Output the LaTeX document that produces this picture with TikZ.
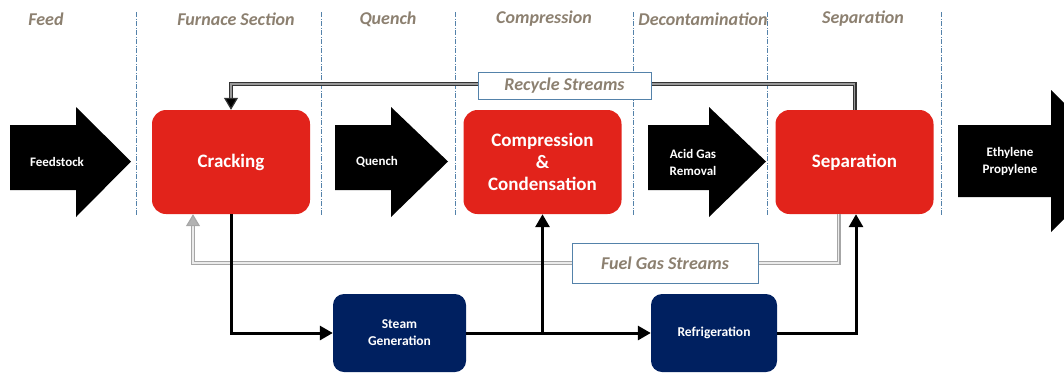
\documentclass[tikz,border=0pt]{standalone}
\usepackage{fontspec}
\setmainfont{Carlito}
\usetikzlibrary{arrows.meta}
\definecolor{crackred}{RGB}{226,35,27}
\definecolor{utilblue}{RGB}{0,32,96}
\definecolor{headgray}{RGB}{140,128,112}
\definecolor{sectblue}{RGB}{84,130,170}
\begin{document}
\begin{tikzpicture}[x=1pt,y=-1pt]
        \tikzset{
            procnode/.style={rounded corners=14pt,fill=crackred,minimum width=158pt,minimum height=104pt,text=white,align=center,font=\fontsize{19}{22}\selectfont\bfseries},
            utilnode/.style={rounded corners=11pt,fill=utilblue,minimum height=78pt,text=white,align=center,font=\fontsize{13.5}{17}\selectfont\bfseries},
            sectlabel/.style={text=headgray,font=\fontsize{18}{20}\selectfont\bfseries\itshape},
            streambox/.style={draw=sectblue,line width=1pt,fill=white,text=headgray,font=\fontsize{18}{20}\selectfont\bfseries\itshape},
            arrowlabel/.style={text=white,align=center,font=\fontsize{13}{17}\selectfont\bfseries},
            sectline/.style={draw=sectblue,line width=0.8pt,dash pattern=on 5pt off 1.5pt on 1pt off 1.5pt},
            flow/.style={line width=3pt,-{Triangle[length=13pt,width=14pt]}},
            recycle/.style={draw=black!80,double=black!40,line width=1.2pt,double distance=1.6pt,-{Triangle[length=12pt,width=14pt,fill=black]}},
            fuelgas/.style={draw=black!35,double=black!8,line width=1.2pt,double distance=1.6pt,-{Triangle[length=12pt,width=14pt,fill=black!30]}},
        }
        \useasboundingbox (0,0) rectangle (1064,373);
        \clip (0,0) rectangle (1064,373);

        % section headers
        \node[sectlabel] (hfeed) at (46,19) {Feed};
        \node[sectlabel] (hfurn) at (236,19) {Furnace Section};
        \node[sectlabel] (hquench) at (388,19) {Quench};
        \node[sectlabel] (hcompr) at (544,19) {Compression};
        \node[sectlabel] (hdecon) at (703,19) {Decontamination};
        \node[sectlabel] (hsep) at (863,19) {Separation};
        \foreach \x in {136,321,455,633,767,941}
            \draw[sectline] (\x,12) -- (\x,216);

        % block arrows
        \foreach \a/\b/\c in {10/76/131,335/391/448,648/709/766}
            \fill[black] (\a,125) -- (\b,125) -- (\b,107) -- (\c,161.5) -- (\b,217) -- (\b,190) -- (\a,190) -- cycle;
        \fill[black] (958,125) -- (1051,125) -- (1051,90) -- (1122,161) -- (1051,232) -- (1051,197) -- (958,197) -- cycle;
        \node[arrowlabel] (feedlbl) at (57,162) {Feedstock};
        \node[arrowlabel] (quenchlbl) at (377,162) {Quench};
        \node[arrowlabel] (acidlbl) at (693,162) {Acid Gas\\Removal};
        \node[arrowlabel] (prodlbl) at (1010,161) {Ethylene\\Propylene};

        % process units
        \node[procnode] (crack) at (231,162) {Cracking};
        \node[procnode] (compr) at (542.5,162) {Compression\\\&\\Condensation};
        \node[procnode] (sep) at (854.5,162) {Separation};
        \node[utilnode,minimum width=133pt] (steam) at (399.5,333) {Steam\\Generation};
        \node[utilnode,minimum width=126pt] (refrig) at (714,333) {Refrigeration};

        % recycle and fuel gas
        \draw[recycle] (sep.north) -- ++(0,-26) -| (crack.north);
        \node[streambox,minimum width=173pt,minimum height=27pt] (recbox) at (564.5,85.5) {Recycle Streams};
        \draw[fuelgas] ([xshift=-16pt]sep.south) -- ++(0,49) -| ([xshift=-38pt]crack.south);
        \node[streambox,minimum width=186pt,minimum height=40pt] (fuelbox) at (665,263) {Fuel Gas Streams};

        % utilities
        \draw[flow] (crack.south) |- (steam.west);
        \draw[flow] (steam.east) -- (refrig.west);
        \draw[flow] (steam.east -| compr.south) -- (compr.south);
        \draw[flow] (refrig.east) -| ([xshift=1.5pt]sep.south);
    \end{tikzpicture}
\end{document}
